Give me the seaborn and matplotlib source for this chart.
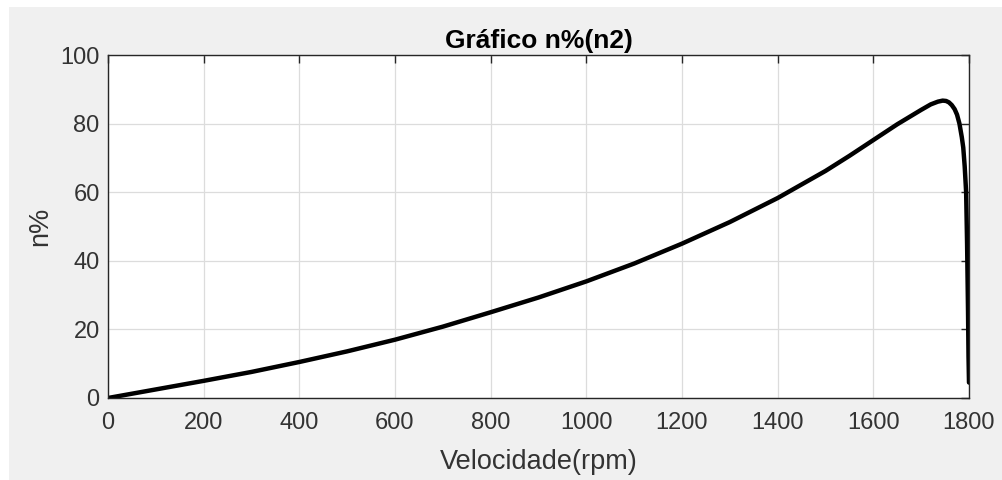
import numpy as np
import pandas as pd
import matplotlib
matplotlib.use("Agg")
import matplotlib.pyplot as plt
from matplotlib.patches import Rectangle
import seaborn as sns

# values
velocidade = [0, 100, 200, 300, 400, 500, 600, 700, 800, 900, 1000, 1100,
              1200, 1300, 1400, 1500, 1550, 1600, 1650, 1700, 1720, 1735,
              1745, 1752, 1758, 1764, 1770, 1775, 1780, 1785, 1788, 1791,
              1794, 1796, 1798, 1799, 1800]
rendimento = [0, 2.5, 5.0, 7.6, 10.5, 13.6, 17.0, 20.8, 25.0, 29.3, 34.0, 39.2,
              45.0, 51.3, 58.3, 66.2, 70.6, 75.2, 79.8, 84.0, 85.6, 86.4,
              86.7, 86.6, 86.2, 85.4, 84.2, 82.6, 80.0, 76.0, 73.0, 67.5,
              60.0, 45.0, 25.0, 12.0, 4.5]

x_ticks = [0, 200, 400, 600, 800, 1000, 1200, 1400, 1600, 1800]
y_ticks = [0, 20, 40, 60, 80, 100]

df = pd.DataFrame({"Velocidade(rpm)": velocidade, "n%": rendimento})

sns.set_style("white")
plt.rcParams["font.family"] = ["Liberation Sans", "DejaVu Sans"]

fig = plt.figure(figsize=(10.03, 4.8), dpi=100)
fig.patch.set_facecolor("#f0f0f0")
# thin white margin on the top and left, like the screenshot
fig.patches.append(Rectangle((0, 1 - 7 / 480), 1, 7 / 480,
                             transform=fig.transFigure, facecolor="white",
                             edgecolor="none", zorder=-10))
fig.patches.append(Rectangle((0, 0), 9 / 1003, 1,
                             transform=fig.transFigure, facecolor="white",
                             edgecolor="none", zorder=-10))

ax = fig.add_axes([108 / 1003, 1 - 398 / 480, 861 / 1003, 343 / 480])
ax.set_facecolor("white")

sns.lineplot(data=df, x="Velocidade(rpm)", y="n%", ax=ax, color="black",
             linewidth=3.2, sort=False, estimator=None)

ax.set_xlim(0, 1800)
ax.set_ylim(0, 100)
ax.set_xticks(x_ticks)
ax.set_yticks(y_ticks)
ax.grid(True, color="#dcdcdc", linewidth=0.9)
ax.set_axisbelow(True)

for s in ax.spines.values():
    s.set_color("#262626")
    s.set_linewidth(1.0)
ax.tick_params(direction="in", length=6, width=1.0, color="#262626",
               labelsize=17, labelcolor="#333333", top=True, right=True,
               labeltop=False, labelright=False, pad=6)
ax.tick_params(axis="x", pad=10)

ax.set_xlabel("Velocidade(rpm)", fontsize=19.5, color="#333333", labelpad=11)
ax.set_ylabel("n%", fontsize=19.5, color="#333333", labelpad=5)
ax.set_title("Gráfico n%(n2)", fontsize=19, fontweight="bold",
             color="black", pad=5)

fig.savefig("out.png", dpi=100, facecolor=fig.get_facecolor())
